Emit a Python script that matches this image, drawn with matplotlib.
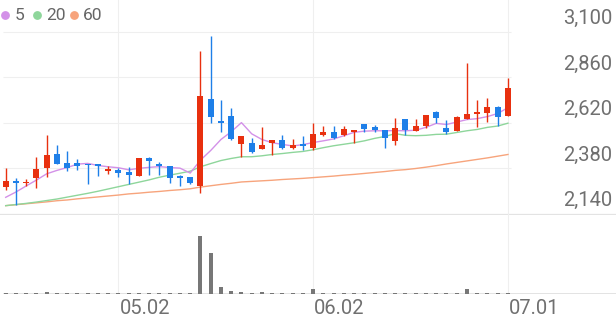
import matplotlib
matplotlib.use("Agg")
import matplotlib.pyplot as plt
from matplotlib.lines import Line2D
from matplotlib.transforms import blended_transform_factory

plt.rcParams['font.family'] = ['Roboto', 'DejaVu Sans']

# Daily candles (KRW), red = up, blue = down
opens = [2285, 2315, 2305, 2330, 2380, 2455, 2410, 2410, 2405, 2405,
         2365, 2370, 2360, 2340, 2435, 2405, 2395, 2340, 2335, 2290,
         2745, 2630, 2655, 2510, 2515, 2485, 2515, 2530, 2490, 2510,
         2490, 2555, 2575, 2555, 2570, 2615, 2600, 2585, 2525, 2640,
         2580, 2605, 2680, 2595, 2580, 2640, 2670, 2675, 2705, 2655]
highs = [2385, 2330, 2325, 2440, 2555, 2505, 2470, 2430, 2405, 2405,
         2395, 2380, 2390, 2435, 2440, 2415, 2395, 2345, 2335, 3000,
         3080, 2740, 2700, 2550, 2540, 2600, 2530, 2555, 2535, 2550,
         2620, 2605, 2605, 2605, 2585, 2615, 2610, 2585, 2645, 2640,
         2640, 2660, 2685, 2635, 2655, 2935, 2740, 2750, 2710, 2855]
lows = [2265, 2185, 2290, 2275, 2335, 2405, 2365, 2370, 2300, 2340,
        2350, 2335, 2300, 2340, 2345, 2345, 2305, 2290, 2300, 2250,
        2620, 2575, 2530, 2440, 2460, 2485, 2450, 2485, 2485, 2480,
        2480, 2550, 2535, 2550, 2515, 2570, 2570, 2490, 2505, 2555,
        2580, 2595, 2620, 2560, 2580, 2640, 2600, 2625, 2605, 2655]
closes = [2315, 2305, 2310, 2375, 2450, 2405, 2380, 2395, 2400, 2395,
          2375, 2355, 2345, 2435, 2420, 2395, 2330, 2330, 2305, 2760,
          2650, 2620, 2535, 2550, 2465, 2505, 2530, 2490, 2505, 2500,
          2560, 2575, 2540, 2590, 2585, 2590, 2585, 2540, 2595, 2585,
          2605, 2660, 2645, 2570, 2650, 2670, 2680, 2705, 2650, 2805]

# moving averages as shown on the chart
ma5 = [2228, 2256, 2288, 2319, 2352, 2370, 2385, 2403, 2407, 2396,
       2389, 2384, 2373, 2381, 2386, 2390, 2385, 2382, 2356, 2424,
       2475, 2533, 2574, 2622, 2563, 2533, 2516, 2507, 2499, 2506,
       2517, 2526, 2536, 2553, 2571, 2577, 2579, 2579, 2580, 2579,
       2582, 2597, 2618, 2612, 2625, 2638, 2643, 2654, 2670, 2701]
ma20 = [2184, 2190, 2196, 2203, 2211, 2219, 2229, 2239, 2249, 2260,
        2272, 2284, 2296, 2308, 2320, 2334, 2345, 2355, 2366, 2389,
        2406, 2422, 2433, 2442, 2442, 2447, 2454, 2459, 2465, 2470,
        2479, 2490, 2500, 2508, 2516, 2526, 2539, 2549, 2564, 2555,
        2553, 2555, 2560, 2561, 2570, 2579, 2586, 2597, 2604, 2619]
ma60 = [2184, 2189, 2194, 2199, 2204, 2210, 2214, 2220, 2225, 2230,
        2235, 2240, 2246, 2250, 2255, 2259, 2264, 2268, 2273, 2282,
        2289, 2296, 2302, 2309, 2312, 2315, 2318, 2322, 2325, 2328,
        2332, 2336, 2340, 2345, 2349, 2354, 2359, 2364, 2370, 2374,
        2380, 2387, 2395, 2404, 2412, 2420, 2428, 2436, 2445, 2454]

# volume (thousand shares)
volumes = [80, 60, 70, 90, 170, 90, 80, 70, 60, 70,
           60, 60, 60, 70, 60, 60, 60, 60, 60, 5830,
           4070, 670, 330, 200, 100, 230, 100, 70, 70, 70,
           470, 120, 70, 60, 70, 60, 60, 70, 120, 70,
           60, 60, 70, 60, 70, 470, 90, 70, 60, 70]

price_ticks = [3100, 2860, 2620, 2380, 2140]
date_idx = [11, 30, 49]
date_labels = ['05.02', '06.02', '07.01']

RED = '#e8300f'
BLUE = '#1e7fe8'
MA_COLORS = {'5': '#d391e8', '20': '#8ed69b', '60': '#f7a47c'}
GRID = '#efefef'
TEXT = '#707070'

W, H = 616, 321
fig = plt.figure(figsize=(W / 100, H / 100), dpi=100)

# price panel: pixel rows 0..215, volume panel: 215..294
ax = fig.add_axes([0, 1 - 215 / H, 1, 215 / H])
axv = fig.add_axes([0, (H - 294) / H, 1, 79 / H])

px = 240 / 45.5  # KRW per pixel
top = 3100 + 32 * px
ax.set_ylim(top - 215 * px, top)
xlim = (-0.556, -0.556 + W / 10.25)
ax.set_xlim(*xlim)
axv.set_xlim(*xlim)
axv.set_ylim(0, 7900)
ax.axis('off')
axv.axis('off')

# grid
ax.hlines(price_ticks[:-1], -0.25, 49.3, color=GRID, lw=0.8, zorder=0)
ax.axhline(price_ticks[-1], color='#e3e3e3', lw=0.9, zorder=0)
for d in date_idx:
    ax.axvline(d, color=GRID, lw=0.8, zorder=0)
    axv.axvline(d, color=GRID, lw=0.8, zorder=0)
axv.hlines(0, -0.25, xlim[1], color='#dedede', lw=1.2, zorder=0)

# moving averages
ax.plot(range(len(ma60)), ma60, color=MA_COLORS['60'], lw=1.0, zorder=1)
ax.plot(range(len(ma20)), ma20, color=MA_COLORS['20'], lw=1.0, zorder=1)
ax.plot(range(len(ma5)), ma5, color=MA_COLORS['5'], lw=1.0, zorder=1)

# candles
for i, (o, h, l, c) in enumerate(zip(opens, highs, lows, closes)):
    col = RED if c >= o else BLUE
    ax.vlines(i, l, h, color=col, lw=1.0, zorder=2)
    body = max(abs(c - o), 6)
    ax.bar(i, body, bottom=min(o, c), width=0.58, color=col, lw=0, zorder=3)

# volume bars
axv.bar(range(len(volumes)), volumes, width=0.4, color='#777777', lw=0, zorder=2)

# right-side price labels sit above their gridline
tr = blended_transform_factory(ax.transAxes, ax.transData)
for v in price_ticks:
    ax.annotate(f'{v:,}', xy=(612 / W, v), xycoords=tr, xytext=(0, 13.5),
                textcoords='offset pixels', ha='right', va='center',
                fontsize=14.5, color=TEXT)

# date labels, left aligned at gridline
trv = blended_transform_factory(axv.transData, axv.transAxes)
for d, lab in zip(date_idx, date_labels):
    axv.annotate(lab, xy=(d, 0), xycoords=trv, xytext=(1, -15),
                 textcoords='offset pixels', ha='left', va='center',
                 fontsize=14.5, color=TEXT, annotation_clip=False)

# legend
for (name, col), dx, tx in zip(MA_COLORS.items(), [5.3, 36.7, 74], [15, 46, 83]):
    fig.add_artist(Line2D([dx / W], [1 - 15 / H], marker='o', ms=5.3, color=col,
                          lw=0, transform=fig.transFigure))
    fig.text(tx / W, 1 - 15 / H, name, ha='left', va='center',
             fontsize=12.5, color='#666666')

fig.savefig('out.png', dpi=100)
